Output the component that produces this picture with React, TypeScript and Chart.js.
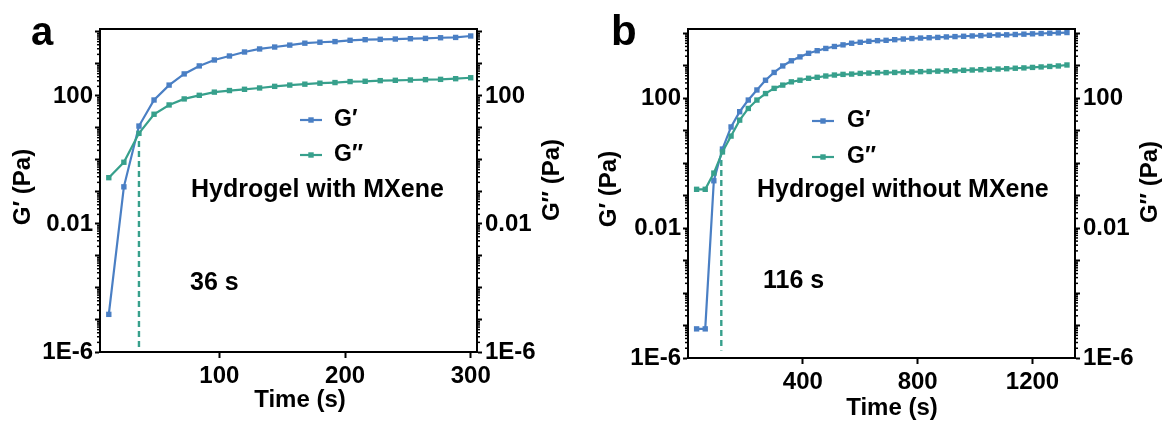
import React, { useEffect, useRef } from "react";
import { Chart, registerables } from "chart.js";

Chart.register(...registerables);

// ---------------- data ----------------
// Panel a: Hydrogel with MXene
const timeA = [12, 24, 36, 48, 60, 72, 84, 96, 108, 120, 132, 144, 156, 168, 180, 192, 204, 216, 228, 240, 252, 264, 276, 288, 300];
const gPrimeA = [1.5e-5, 0.145, 11.5, 75, 219, 490, 871, 1334, 1778, 2371, 2951, 3388, 3890, 4467, 4786, 5012, 5495, 5754, 5888, 6026, 6166, 6310, 6607, 6761, 7499];
const gDoublePrimeA = [0.28, 0.85, 6.8, 26.9, 52.5, 81, 105, 132, 148, 162, 178, 200, 219, 234, 251, 263, 282, 288, 302, 309, 316, 324, 331, 347, 372];
const crossA = [36, 3.9, 1.3e-6]; // time, dashed top, dashed bottom
const xTicksA = [100, 200, 300];

// Panel b: Hydrogel without MXene
const timeB = [30, 60, 90, 120, 150, 180, 210, 240, 270, 300, 330, 360, 390, 420, 450, 480, 510, 540, 570, 600, 630, 660, 690, 720, 750, 780, 810, 840, 870, 900, 930, 960, 990, 1020, 1050, 1080, 1110, 1140, 1170, 1200, 1230, 1260, 1290, 1320];
const gPrimeB = [7.9e-6, 7.9e-6, 0.29, 2.75, 13.2, 38.9, 89, 182, 363, 631, 1000, 1445, 1905, 2455, 2951, 3467, 3981, 4467, 5012, 5370, 5754, 6026, 6166, 6457, 6761, 6998, 7244, 7413, 7586, 7852, 8035, 8222, 8414, 8610, 8810, 9016, 9120, 9333, 9550, 9772, 10000, 10233, 10471, 10715];
const gDoublePrimeB = [0.158, 0.158, 0.5, 2.24, 6.9, 21.4, 49, 89, 141, 204, 257, 324, 363, 417, 447, 490, 525, 550, 562, 589, 603, 617, 624, 631, 646, 653, 668, 676, 692, 708, 716, 733, 750, 767, 785, 804, 822, 851, 871, 902, 933, 966, 1000, 1072];
const crossB = [116, 1.26, 1.7e-6];
const xTicksB = [400, 800, 1200];

const yDecades = [1e-6, 1e-5, 1e-4, 1e-3, 1e-2, 1e-1, 1, 10, 100, 1000, 10000];
const yLabelValues = [1e-6, 0.01, 100];
const yLabelTexts = ["1E-6", "0.01", "100"];
const minorMultipliers = [2, 3, 4, 5, 6, 7, 8, 9];

const seriesNames = ["G\u2032", "G\u2032\u2032"];

// ---------------- style ----------------
const FONT_FAMILY = "'Liberation Sans', Arial, Helvetica, sans-serif";
const BLUE = "#4a7fc4";
const TEAL = "#37a08c";
const CANVAS_W = 583;
const CANVAS_H = 426;

interface PanelSpec {
  offsetX: number;
  time: number[];
  gp: number[];
  gpp: number[];
  cross: number[];
  xMin: number;
  xMax: number;
  xTicks: number[];
  yMax: number;
  leftW: number;
  rightW: number;
  top: number;
  bottomH: number;
  letter: string;
  letterX: number;
  letterY: number;
  letterSize: number;
  leftTitle: [number, number];
  rightTitle: [number, number];
  xTitle: [number, number];
  legendX0: number;
  legendX1: number;
  legendTextX: number;
  legendY: [number, number];
  note: string;
  noteX: number;
  noteY: number;
  timeLabel: string;
  timeX: number;
  timeY: number;
}

const panelA: PanelSpec = {
  offsetX: 0,
  time: timeA,
  gp: gPrimeA,
  gpp: gDoublePrimeA,
  cross: crossA,
  xMin: 5,
  xMax: 305,
  xTicks: xTicksA,
  yMax: 12400,
  leftW: 100,
  rightW: 106,
  top: 29,
  bottomH: 74,
  letter: "a",
  letterX: 31,
  letterY: 45,
  letterSize: 40,
  leftTitle: [23, 187],
  rightTitle: [552, 180],
  xTitle: [300, 400],
  legendX0: 300,
  legendX1: 322,
  legendTextX: 334,
  legendY: [120, 155],
  note: "Hydrogel with MXene",
  noteX: 191,
  noteY: 190,
  timeLabel: "36 s",
  timeX: 190,
  timeY: 283,
};

const panelB: PanelSpec = {
  offsetX: 583,
  time: timeB,
  gp: gPrimeB,
  gpp: gDoublePrimeB,
  cross: crossB,
  xMin: 0,
  xMax: 1348,
  xTicks: xTicksB,
  yMax: 13770,
  leftW: 105,
  rightW: 91,
  top: 29,
  bottomH: 68,
  letter: "b",
  letterX: 611,
  letterY: 45,
  letterSize: 42,
  leftTitle: [609, 189],
  rightTitle: [1150, 182],
  xTitle: [892, 408],
  legendX0: 812,
  legendX1: 834,
  legendTextX: 847,
  legendY: [121, 157],
  note: "Hydrogel without MXene",
  noteX: 757,
  noteY: 190,
  timeLabel: "116 s",
  timeX: 763,
  timeY: 281,
};

const font = (size: number) => `bold ${size}px ${FONT_FAMILY}`;

function yScale(position: "left" | "right", width: number, max: number): any {
  return {
    type: "logarithmic",
    position,
    min: 1e-6,
    max,
    afterBuildTicks: (s: any) => {
      s.ticks = yDecades.map((v) => ({ value: v }));
    },
    afterFit: (s: any) => {
      s.width = width;
    },
    ticks: {
      autoSkip: false,
      color: "#000",
      padding: position === "left" ? 2 : 3,
      font: { family: FONT_FAMILY, size: 24, weight: "bold" },
      callback: (v: any) => {
        const i = yLabelValues.findIndex((l) => Math.abs(Math.log10(l) - Math.log10(Number(v))) < 1e-6);
        return i >= 0 ? yLabelTexts[i] : "";
      },
    },
    grid: { display: true, drawOnChartArea: false, drawTicks: true, tickLength: 5, tickWidth: 2, tickColor: "#000" },
    border: { display: true, color: "#000", width: 2 },
  };
}

function Panel({ spec }: { spec: PanelSpec }) {
  const ref = useRef<HTMLCanvasElement>(null);

  useEffect(() => {
    const canvas = ref.current;
    if (!canvas) return;
    const o = spec.offsetX;

    const decor = {
      id: "decor" + spec.letter,
      afterDraw(chart: any) {
        const ctx: CanvasRenderingContext2D = chart.ctx;
        const ca = chart.chartArea;
        ctx.save();
        // top frame line
        ctx.strokeStyle = "#000";
        ctx.lineWidth = 2;
        ctx.beginPath();
        ctx.moveTo(ca.left - 1, ca.top);
        ctx.lineTo(ca.right + 1, ca.top);
        ctx.stroke();
        // minor ticks on log axes
        ctx.lineWidth = 1.5;
        const axes: [string, number, number][] = [
          ["y", -1, ca.left],
          ["y2", 1, ca.right],
        ];
        for (const [id, dir, x0] of axes) {
          const sc = chart.scales[id];
          for (const d of yDecades) {
            for (const m of minorMultipliers) {
              const v = m * d;
              if (v > sc.max || v < sc.min) continue;
              const py = sc.getPixelForValue(v);
              ctx.beginPath();
              ctx.moveTo(x0, py);
              ctx.lineTo(x0 + dir * 3, py);
              ctx.stroke();
            }
          }
        }
        // texts
        ctx.fillStyle = "#000";
        ctx.font = font(spec.letterSize);
        ctx.textAlign = "left";
        ctx.textBaseline = "alphabetic";
        ctx.fillText(spec.letter, spec.letterX - o, spec.letterY);

        const rotText = (s: string, cx: number, cy: number) => {
          ctx.save();
          ctx.translate(cx - o, cy);
          ctx.rotate(-Math.PI / 2);
          ctx.textAlign = "center";
          ctx.textBaseline = "middle";
          ctx.font = font(24);
          ctx.fillText(s, 0, 0);
          ctx.restore();
        };
        rotText(seriesNames[0] + " (Pa)", spec.leftTitle[0], spec.leftTitle[1]);
        rotText(seriesNames[1] + " (Pa)", spec.rightTitle[0], spec.rightTitle[1]);

        ctx.font = font(24);
        ctx.textAlign = "center";
        ctx.textBaseline = "middle";
        ctx.fillText("Time (s)", spec.xTitle[0] - o, spec.xTitle[1]);

        // legend
        const colors = [BLUE, TEAL];
        seriesNames.forEach((name, i) => {
          const y = spec.legendY[i];
          ctx.strokeStyle = colors[i];
          ctx.lineWidth = 2.2;
          ctx.beginPath();
          ctx.moveTo(spec.legendX0 - o, y);
          ctx.lineTo(spec.legendX1 - o, y);
          ctx.stroke();
          ctx.fillStyle = colors[i];
          const mx = (spec.legendX0 + spec.legendX1) / 2 - o;
          ctx.fillRect(mx - 2.7, y - 2.7, 5.4, 5.4);
          ctx.fillStyle = "#000";
          ctx.font = font(23);
          ctx.textAlign = "left";
          ctx.textBaseline = "middle";
          ctx.fillText(name, spec.legendTextX - o, y);
        });

        // annotations
        ctx.font = font(25);
        ctx.textAlign = "left";
        ctx.textBaseline = "middle";
        ctx.fillText(spec.note, spec.noteX - o, spec.noteY);
        ctx.fillText(spec.timeLabel, spec.timeX - o, spec.timeY);
        ctx.restore();
      },
    };

    const chart = new Chart(canvas, {
      type: "line",
      data: {
        datasets: [
          {
            label: seriesNames[1],
            data: spec.time.map((t, i) => ({ x: t, y: spec.gpp[i] })),
            borderColor: TEAL,
            backgroundColor: TEAL,
            borderWidth: 2.2,
            pointStyle: "rect",
            pointRadius: 3.8,
            pointBorderWidth: 0,
            yAxisID: "y2",
          },
          {
            label: seriesNames[0],
            data: spec.time.map((t, i) => ({ x: t, y: spec.gp[i] })),
            borderColor: BLUE,
            backgroundColor: BLUE,
            borderWidth: 2.2,
            pointStyle: "rect",
            pointRadius: 3.8,
            pointBorderWidth: 0,
            yAxisID: "y",
          },
          {
            label: "crossover",
            data: [
              { x: spec.cross[0], y: spec.cross[1] },
              { x: spec.cross[0], y: spec.cross[2] },
            ],
            borderColor: TEAL,
            borderWidth: 2.4,
            borderDash: [6, 4],
            pointRadius: 0,
            yAxisID: "y",
          },
        ],
      } as any,
      options: {
        responsive: false,
        animation: false,
        devicePixelRatio: 1,
        layout: { padding: { top: spec.top, left: 0, right: 0, bottom: 0 } },
        plugins: { legend: { display: false }, tooltip: { enabled: false } },
        scales: {
          x: {
            type: "linear",
            position: "bottom",
            min: spec.xMin,
            max: spec.xMax,
            afterBuildTicks: (s: any) => {
              s.ticks = spec.xTicks.map((v) => ({ value: v }));
            },
            afterFit: (s: any) => {
              s.height = spec.bottomH;
            },
            ticks: {
              autoSkip: false,
              maxRotation: 0,
              color: "#000",
              padding: 4,
              font: { family: FONT_FAMILY, size: 24, weight: "bold" },
              callback: (v: any) => String(v),
            },
            grid: { display: true, drawOnChartArea: false, drawTicks: true, tickLength: 6, tickWidth: 2, tickColor: "#000" },
            border: { display: true, color: "#000", width: 2 },
          },
          y: yScale("left", spec.leftW, spec.yMax),
          y2: yScale("right", spec.rightW, spec.yMax),
        },
      } as any,
      plugins: [decor],
    });
    return () => chart.destroy();
  }, [spec]);

  return (
    <canvas
      ref={ref}
      width={CANVAS_W}
      height={CANVAS_H}
      style={{ position: "absolute", left: spec.offsetX, top: 0, width: CANVAS_W, height: CANVAS_H }}
    />
  );
}

export default function App() {
  return (
    <div style={{ position: "fixed", left: 0, top: 0, width: 1166, height: 426, background: "#fff" }}>
      <Panel spec={panelA} />
      <Panel spec={panelB} />
    </div>
  );
}
